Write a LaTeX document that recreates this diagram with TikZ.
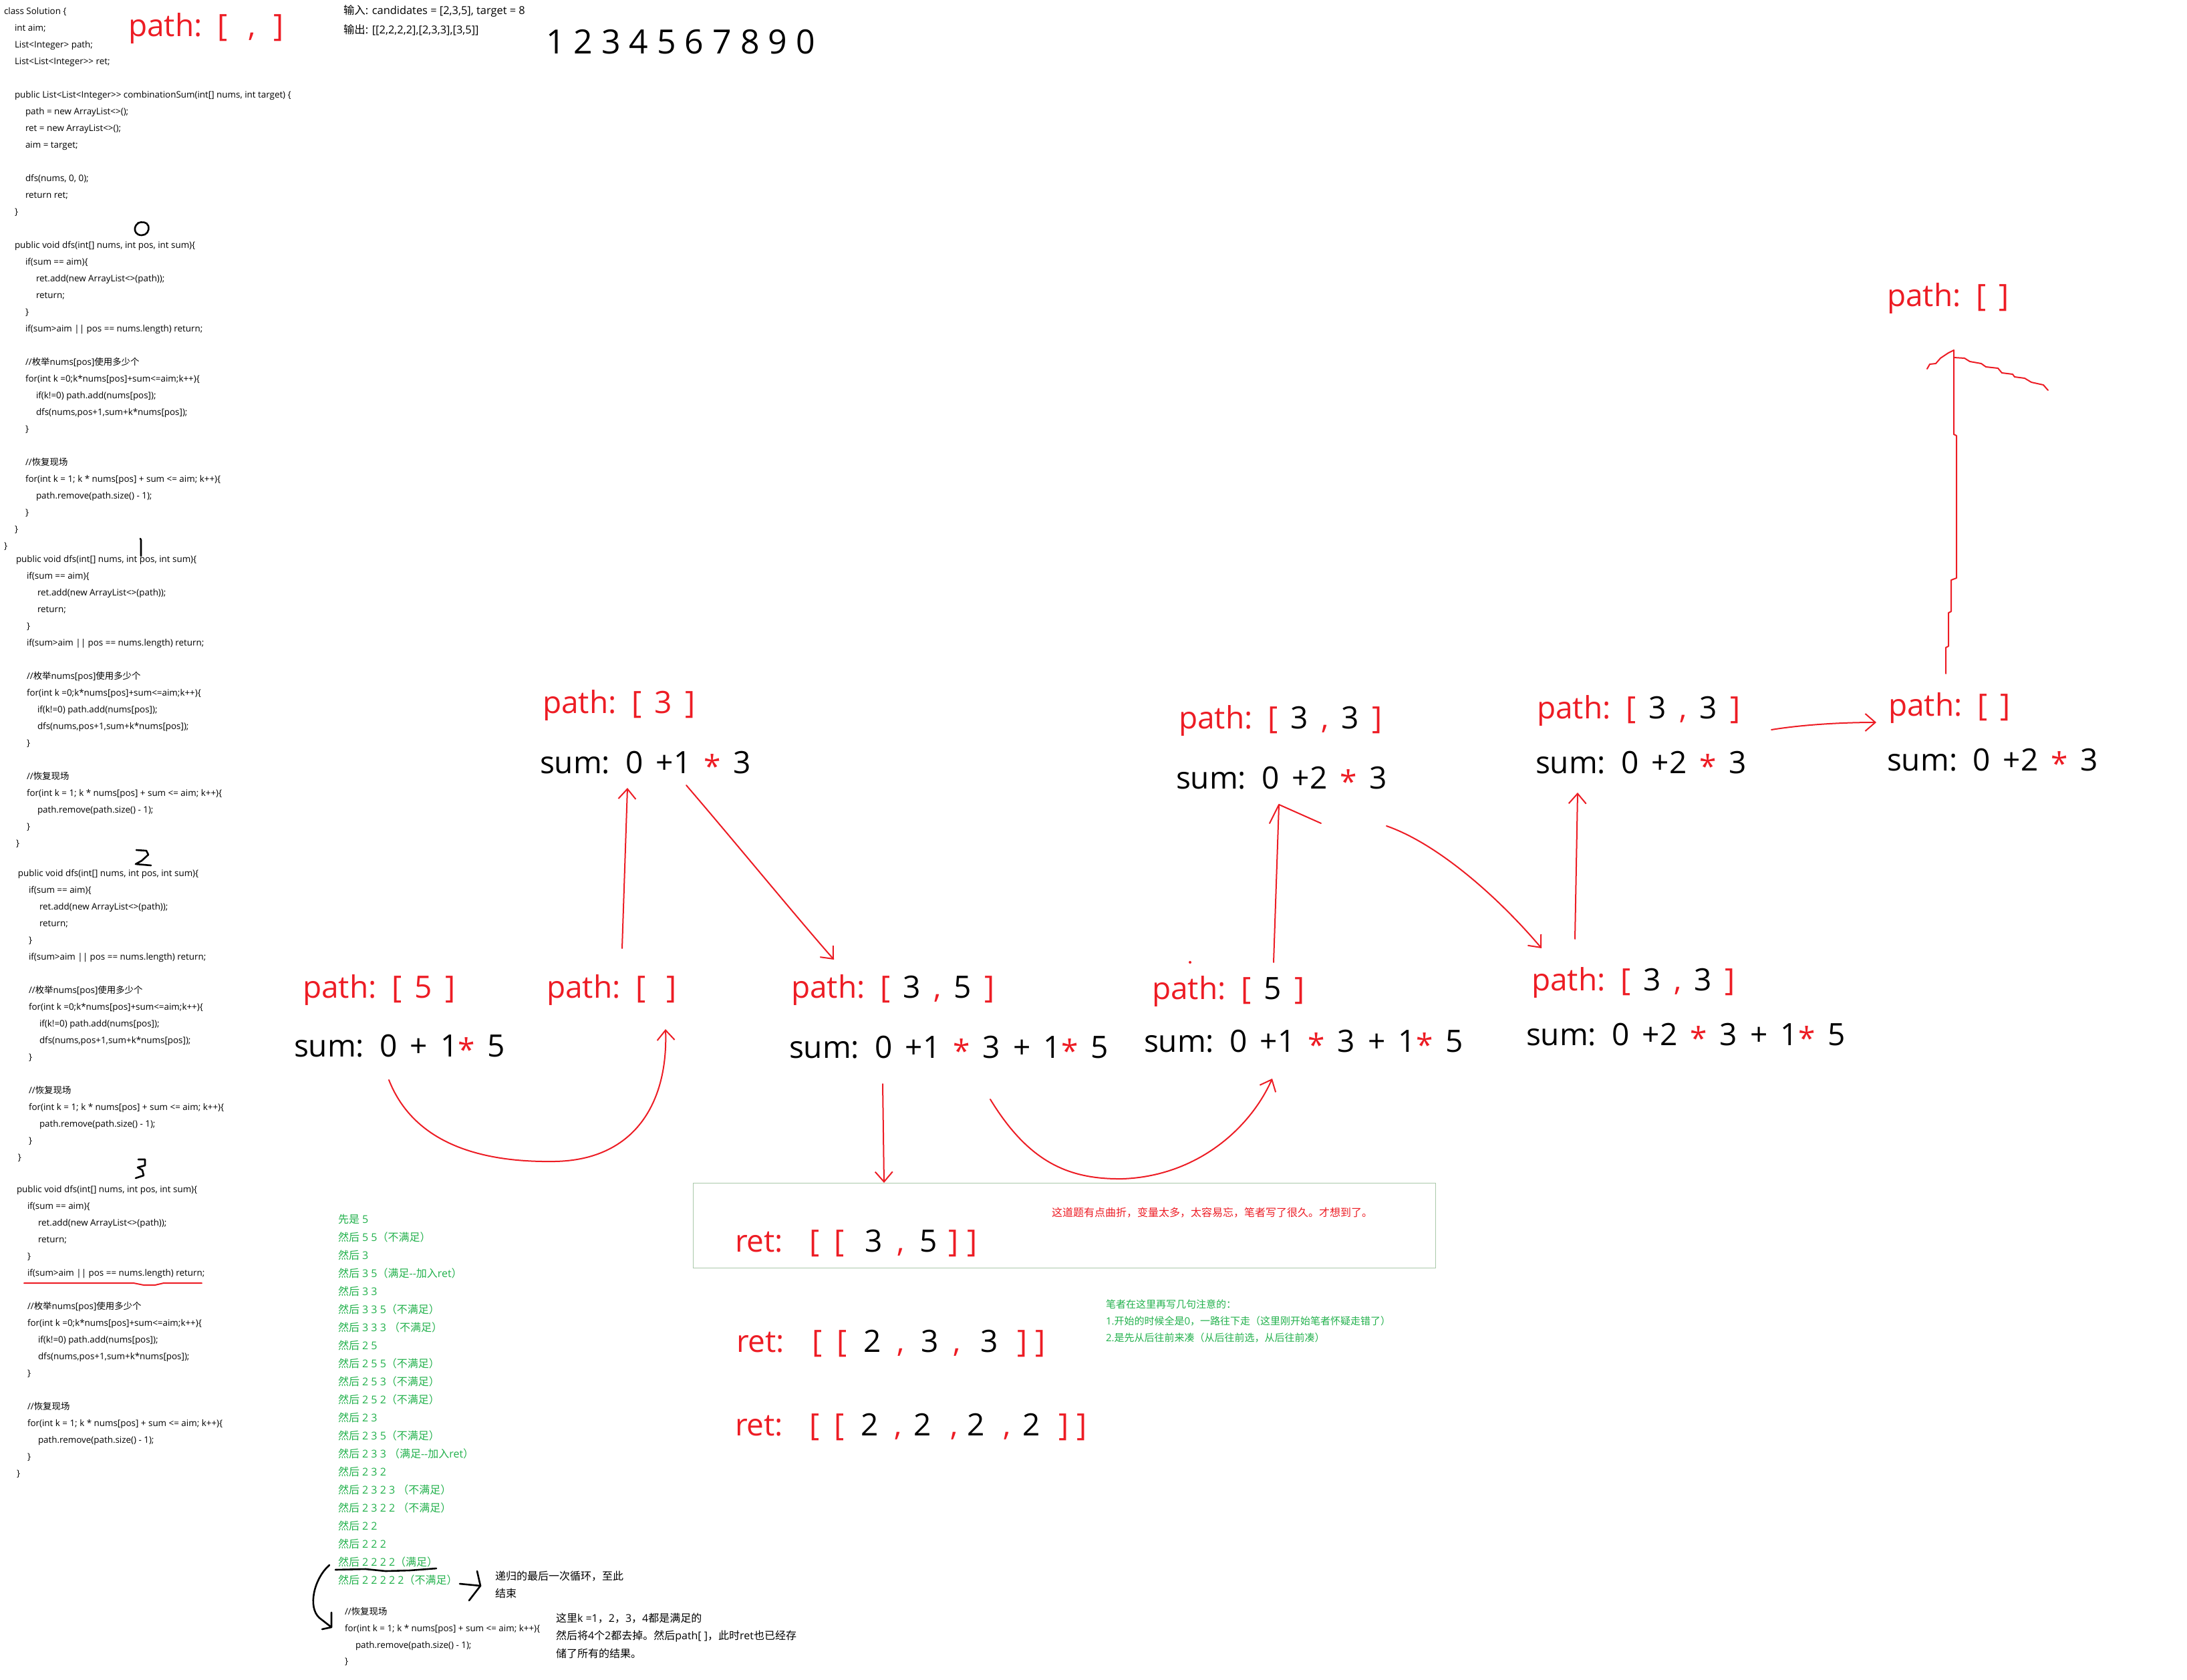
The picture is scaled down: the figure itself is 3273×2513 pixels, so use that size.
\documentclass[tikz,border=0pt]{standalone}
\usepackage{fontspec}
\setmainfont{Open Sans}
\newfontfamily\cjk{Noto Sans CJK SC}
\newfontfamily\bigf[WordSpace=1.6]{Open Sans}
\usetikzlibrary{arrows.meta}
\definecolor{pred}{RGB}{237,28,36}
\definecolor{pgreen}{RGB}{34,177,76}
\definecolor{boxc}{RGB}{170,200,170}
% automatic switch to the CJK font for CJK characters
\XeTeXinterchartokenstate=1
\newXeTeXintercharclass\cjkcls
\newcount\cjkcnt
\cjkcnt="3000
\loop
  \XeTeXcharclass\cjkcnt=\cjkcls
  \advance\cjkcnt by 1
\ifnum\cjkcnt<"A000 \repeat
\cjkcnt="FF00
\loop
  \XeTeXcharclass\cjkcnt=\cjkcls
  \advance\cjkcnt by 1
\ifnum\cjkcnt<"FFF0 \repeat
\XeTeXinterchartoks 0 \cjkcls = {\begingroup\cjk}
\XeTeXinterchartoks 4095 \cjkcls = {\begingroup\cjk}
\XeTeXinterchartoks \cjkcls 0 = {\endgroup}
\XeTeXinterchartoks \cjkcls 4095 = {\endgroup}
\newcommand\kblack[1]{\textcolor{black}{#1}}
\newcommand\kred[1]{\textcolor{pred}{#1}}
\newcommand\rast{\textcolor{pred}{\raisebox{-6pt}{*}}}
\tikzset{
  txtbase/.style={anchor=base west, inner sep=0pt, outer sep=0pt},
  code/.style={txtbase, font=\fontsize{13.4}{15}\selectfont, yshift=-4.4pt},
  toptxt/.style={txtbase, font=\fontsize{16.4}{19}\selectfont, yshift=-5.6pt},
  gtxt/.style={txtbase, font=\fontsize{16}{19}\selectfont, text=pgreen, yshift=-5.8pt},
  gnote/.style={txtbase, font=\fontsize{15}{18}\selectfont, text=pgreen, yshift=-5.4pt},
  rnote/.style={txtbase, font=\fontsize{16}{19}\selectfont, text=pred, yshift=-5.8pt},
  bnote/.style={txtbase, font=\fontsize{16}{19}\selectfont, yshift=-5.8pt},
  biglab/.style={txtbase, font=\bigf\fontsize{46}{52}\selectfont, yshift=-15pt},
  pathlab/.style={biglab, text=pred},
  sumlab/.style={biglab, text=black},
  retlab/.style={biglab},
  digrow/.style={txtbase, font=\fontsize{50}{56}\selectfont, yshift=-18pt},
  redline/.style={draw=pred, line width=2pt, line cap=round, line join=round},
  redarrow/.style={redline, -{Straight Barb[length=15pt,width=26pt,line width=2pt]}},
  hand/.style={draw=black, line width=2.6pt, line cap=round, line join=round},
}
\newcommand\dfsblock[5]{%
\node[code] (#1l0) at (#2,#5) {public void dfs(int[] nums, int pos, int sum)\{};
\node[code] (#1l1) at (#3,#5+25) {if(sum == aim)\{};
\node[code] (#1l2) at (#4,#5+50) {ret.add(new ArrayList<>(path));};
\node[code] (#1l3) at (#4,#5+75) {return;};
\node[code] (#1l4) at (#3,#5+100) {\}};
\node[code] (#1l5) at (#3,#5+125) {if(sum>aim || pos == nums.length) return;};
\node[code] (#1l7) at (#3,#5+175) {//枚举nums[pos]使用多少个};
\node[code] (#1l8) at (#3,#5+200) {for(int k =0;k*nums[pos]+sum<=aim;k++)\{};
\node[code] (#1l9) at (#4,#5+225) {if(k!=0) path.add(nums[pos]);};
\node[code] (#1l10) at (#4,#5+250) {dfs(nums,pos+1,sum+k*nums[pos]);};
\node[code] (#1l11) at (#3,#5+275) {\}};
\node[code] (#1l13) at (#3,#5+325) {//恢复现场};
\node[code] (#1l14) at (#3,#5+350) {for(int k = 1; k * nums[pos] + sum <= aim; k++)\{};
\node[code] (#1l15) at (#4,#5+375) {path.remove(path.size() - 1);};
\node[code] (#1l16) at (#3,#5+400) {\}};
\node[code] (#1l17) at (#2,#5+425) {\}};
}
\begin{document}
\begin{tikzpicture}[x=1pt,y=-1pt]
\fill[white] (0,0) rectangle (3273,2513);
\useasboundingbox (0,0) rectangle (3273,2513);

% ---------------- code on the left ----------------
\node[code] (c1) at (6,16.7) {class Solution \{};
\node[code] (c2) at (22,41.7) {int aim;};
\node[code] (c3) at (22,66.7) {List<Integer> path;};
\node[code] (c4) at (22,91.7) {List<List<Integer>{}> ret;};
\node[code] (c5) at (22,141.7) {public List<List<Integer>{}> combinationSum(int[] nums, int target) \{};
\node[code] (c6) at (38,166.7) {path = new ArrayList<>();};
\node[code] (c7) at (38,191.7) {ret = new ArrayList<>();};
\node[code] (c8) at (38,216.7) {aim = target;};
\node[code] (c9) at (38,266.7) {dfs(nums, 0, 0);};
\node[code] (c10) at (38,291.7) {return ret;};
\node[code] (c11) at (22,316.7) {\}};
\dfsblock{b0}{22}{38}{54}{366.7}
\node[code] (c12) at (6,816.7) {\}};
\dfsblock{b1}{24}{40}{56}{836.7}
\dfsblock{b2}{27}{43}{59}{1306.7}
\dfsblock{b3}{25}{41}{57}{1780}

% handwritten numbers
\draw[hand] (206,334) .. controls (212,331) and (220,332) .. (222,338) .. controls (224,346) and (219,352) .. (212,352) .. controls (204,352) and (201,346) .. (202,341) .. controls (203,337) and (205,335) .. (208,333);
\draw[hand] (210,806) -- (211,808) -- (211,832);
\draw[hand] (204,1272) -- (219,1273) -- (222,1279) -- (212,1288) -- (203,1293) -- (226,1295);
\draw[hand] (207,1735) -- (217,1735) -- (217,1744) -- (206,1747) -- (213,1751) -- (215,1759) -- (203,1763);
% red underline in code
\draw[redline] (36,1920) -- (200,1920) -- (215,1923) -- (232,1923) -- (245,1920) -- (302,1920);

% ---------------- top texts ----------------
\node[pathlab] (tlpath) at (192,40) {path: [\hspace{31pt},\hspace{27pt}]};
\node[toptxt] (in1) at (514,16) {输入: candidates = [2,3,5], target = 8};
\node[toptxt] (in2) at (514,45) {输出: [[2,2,2,2],[2,3,3],[3,5]]};
\node[digrow] (digits) at (817,63) {1 2 3 4 5 6 7 8 9 0};

% ---------------- diagram labels ----------------
\node[pathlab] (n1p) at (812,1052) {path: [ 3 ]};
\node[sumlab] (n1s) at (808,1142) {sum: 0 +1 \rast{} 3};
\node[pathlab] (n2p) at (453,1478) {path: [ 5 ]};
\node[sumlab] (n2s) at (440,1566) {sum: 0 + 1\rast{} 5};
\node[pathlab] (n3p) at (818,1478) {path: [\hspace{31pt}]};
\node[pathlab] (n4p) at (1184,1478) {path: [ \kblack{3} , \kblack{5} ]};
\node[sumlab] (n4s) at (1181,1568) {sum: 0 +1 \rast{} 3 + 1\rast{} 5};
\node[pathlab] (n5p) at (1764,1075) {path: [ \kblack{3} , \kblack{3} ]};
\node[sumlab] (n5s) at (1760,1165) {sum: 0 +2 \rast{} 3};
\node[pathlab] (n6p) at (1724,1480) {path: [ \kblack{5} ]};
\node[sumlab] (n6s) at (1712,1559) {sum: 0 +1 \rast{} 3 + 1\rast{} 5};
\node[pathlab] (n7p) at (2300,1060) {path: [ \kblack{3} , \kblack{3} ]};
\node[sumlab] (n7s) at (2298,1142) {sum: 0 +2 \rast{} 3};
\node[pathlab] (n8p) at (2292,1467) {path: [ \kblack{3} , \kblack{3} ]};
\node[sumlab] (n8s) at (2284,1549) {sum: 0 +2 \rast{} 3 + 1\rast{} 5};
\node[pathlab] (n9p) at (2826,1056) {path: [ ]};
\node[sumlab] (n9s) at (2824,1138) {sum: 0 +2 \rast{} 3};
\node[pathlab] (n10p) at (2824,443) {path: [ ]};
\fill[pred] (1781,1440) circle (2);

% ---------------- ret box ----------------
\node[draw=boxc, line width=1.3pt, minimum width=1111pt, minimum height=127pt, inner sep=0pt, anchor=north west] (retbox) at (1037,1770) {};
\node[rnote] (rnote) at (1574,1815) {这道题有点曲折，变量太多，太容易忘，笔者写了很久。才想到了。};
\foreach \x/\s/\c [count=\i] in {1100/ret:/pred, 1211/[/pred, 1248/[/pred, 1294/3/black, 1342/{,}/pred, 1376/5/black, 1419/]/pred, 1447/]/pred}
  \node[retlab, text=\c] (r1t\i) at (\x,1858) {\s};
\foreach \x/\s/\c [count=\i] in {1102/ret:/pred, 1215/[/pred, 1252/[/pred, 1292/2/black, 1342/{,}/pred, 1378/3/black, 1426/{,}/pred, 1467/3/black, 1522/]/pred, 1549/]/pred}
  \node[retlab, text=\c] (r2t\i) at (\x,2008) {\s};
\foreach \x/\s/\c [count=\i] in {1100/ret:/pred, 1211/[/pred, 1248/[/pred, 1288/2/black, 1338/{,}/pred, 1367/2/black, 1422/{,}/pred, 1447/2/black, 1501/{,}/pred, 1530/2/black, 1584/]/pred, 1611/]/pred}
  \node[retlab, text=\c] (r3t\i) at (\x,2133) {\s};

% green notes
\node[gnote] (gn1) at (1655,1952) {笔者在这里再写几句注意的：};
\node[gnote] (gn2) at (1655,1977) {1.开始的时候全是0，一路往下走（这里刚开始笔者怀疑走错了）};
\node[gnote] (gn3) at (1655,2002) {2.是先从后往前来凑（从后往前选，从后往前凑）};

% ---------------- green trace ----------------
\foreach \t [count=\i] in {先是 5, 然后 5 5（不满足）, 然后 3, 然后 3 5（满足-{}-加入ret）, 然后 3 3, 然后 3 3 5（不满足）, 然后 3 3 3 （不满足）, 然后 2 5, 然后 2 5 5（不满足）, 然后 2 5 3（不满足）, 然后 2 5 2（不满足）, 然后 2 3, 然后 2 3 5（不满足）, 然后 2 3 3 （满足-{}-加入ret）, 然后 2 3 2, 然后 2 3 2 3 （不满足）, 然后 2 3 2 2 （不满足）, 然后 2 2, 然后 2 2 2, 然后 2 2 2 2（满足）, 然后 2 2 2 2 2（不满足）}
  \node[gtxt] (g\i) at (506,1798+27*\i) {\t};

% bottom code + notes
\node[code] (e1) at (516,2412) {//恢复现场};
\node[code] (e2) at (516,2437) {for(int k = 1; k * nums[pos] + sum <= aim; k++)\{};
\node[code] (e3) at (532,2462) {path.remove(path.size() - 1);};
\node[code] (e4) at (516,2486) {\}};
\node[bnote] (bn1) at (741,2359) {递归的最后一次循环，至此};
\node[bnote] (bn2) at (741,2385) {结束};
\node[bnote] (bn3) at (832,2422) {这里k =1，2，3，4都是满足的};
\node[bnote] (bn4) at (832,2448) {然后将4个2都去掉。然后path[ ]，此时ret也已经存};
\node[bnote] (bn5) at (832,2475) {储了所有的结果。};
% black strokes
\draw[hand] (502,2349) -- (547,2348) -- (577,2351) -- (613,2350) -- (653,2347);
\coordinate (bls) at (493,2342);
\coordinate (ble) at (496,2435);
\draw[hand] (bls) .. controls (470,2362) and (460,2405) .. (478,2421) -- (ble);
\draw[hand] (496,2413) -- (ble) -- (482,2438);
\coordinate (brs) at (688,2370);
\coordinate (bre) at (719,2373);
\draw[hand] (brs) -- (bre);
\draw[hand] (714,2351) -- (bre) -- (702,2395);

% ---------------- red arrows ----------------
\coordinate (a1s) at (582,1616); \coordinate (a1e) at (996,1540);
\draw[redarrow] (a1s) .. controls (615,1700) and (700,1740) .. (830,1738) .. controls (950,1736) and (1000,1650) .. (a1e);
\coordinate (a2s) at (931,1419); \coordinate (a2e) at (939,1179);
\draw[redarrow] (a2s) -- (a2e);
\coordinate (a3s) at (1027,1175); \coordinate (a3e) at (1248,1436);
\draw[redarrow] (a3s) .. controls (1100,1260) and (1190,1370) .. (a3e);
\coordinate (a4s) at (1321,1622); \coordinate (a4e) at (1323,1770);
\draw[redarrow] (a4s) -- (a4e);
\coordinate (a5s) at (1482,1645); \coordinate (a5e) at (1904,1614);
\draw[redarrow] (a5s) .. controls (1540,1740) and (1600,1765) .. (1680,1764) .. controls (1790,1760) and (1870,1690) .. (a5e);
\coordinate (a6s) at (1906,1440); \coordinate (a6e) at (1914,1204);
\coordinate (a6l) at (1900,1232); \coordinate (a6r) at (1977,1232);
\draw[redline] (a6s) -- (a6e);
\draw[redline] (a6l) -- (a6e) -- (a6r);
\coordinate (a7s) at (2075,1236); \coordinate (a7e) at (2307,1419);
\draw[redarrow] (a7s) .. controls (2150,1262) and (2240,1340) .. (a7e);
\coordinate (a8s) at (2357,1405); \coordinate (a8e) at (2361,1186);
\draw[redarrow] (a8s) -- (a8e);
\coordinate (a9s) at (2651,1092); \coordinate (a9e) at (2808,1081);
\draw[redarrow] (a9s) .. controls (2700,1084) and (2760,1081) .. (a9e);
\coordinate (a10s) at (2912,1008); \coordinate (a10e) at (2924,524);
\draw[redline] (a10s) -- (2912,969) -- (2916,967) -- (2916,917) -- (2920,915) -- (2920,868) -- (2928,865) -- (2928,652) -- (2924,650) -- (a10e);
\draw[redline] (2884,552) -- (2888,545) -- (2897,544) -- (2904,536) -- (2910,532) -- (2916,528) -- (a10e);
\draw[redline] (2924,535) -- (2940,536) -- (2948,541) -- (2965,544) -- (2972,549) -- (2990,551) -- (2996,558) -- (3012,560) -- (3015,564) -- (3030,566) -- (3040,572) -- (3058,576) -- (3065,584);
\end{tikzpicture}
\end{document}
